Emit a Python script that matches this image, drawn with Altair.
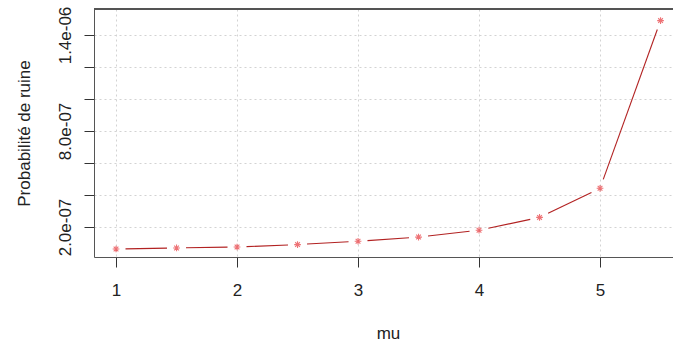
import math
import altair as alt
import pandas as pd

# ---- data ----
mu = [1.0, 1.5, 2.0, 2.5, 3.0, 3.5, 4.0, 4.5, 5.0, 5.5]
prob = [6.25e-08, 6.9e-08, 7.5e-08, 9.0e-08, 1.11e-07, 1.37e-07, 1.80e-07, 2.60e-07, 4.42e-07, 1.49e-06]

x_ticks = [1, 2, 3, 4, 5]
y_ticks = [2e-07, 4e-07, 6e-07, 8e-07, 1.0e-06, 1.2e-06, 1.4e-06]
y_labels = ["2.0e-07", "", "", "8.0e-07", "", "", "1.4e-06"]

x_title = "mu"
y_title = "Probabilité de ruine"

# ---- layout ----
W, H = 579, 248
x_dom = [0.818, 5.603]
y_dom = [1.25e-08, 1.5625e-06]
FONT = "Liberation Sans, Arial, Helvetica, sans-serif"
LINE_COL = "#B22222"
PT_COL = "#E8383D"

pts = pd.DataFrame({"mu": mu, "p": prob})

# segments of a type="b" plot: lines leave a gap around each point
gap = 9.5
sx = W / (x_dom[1] - x_dom[0])
sy = H / (y_dom[1] - y_dom[0])
rows = []
for i in range(len(mu) - 1):
    dmu = mu[i + 1] - mu[i]
    dp = prob[i + 1] - prob[i]
    L = math.hypot(dmu * sx, dp * sy)
    if L > 2 * gap:
        t = gap / L
        rows.append({"x1": mu[i] + t * dmu, "y1": prob[i] + t * dp,
                     "x2": mu[i + 1] - t * dmu, "y2": prob[i + 1] - t * dp})
segs = pd.DataFrame(rows)

expr = "''"
for v, l in reversed(list(zip(y_ticks, y_labels))):
    expr = f"abs(datum.value - {v}) < 1e-12 ? '{l}' : " + expr

xscale = alt.Scale(domain=x_dom, nice=False, zero=False)
yscale = alt.Scale(domain=y_dom, nice=False, zero=False)

xaxis = alt.Axis(values=x_ticks, format="d", title=x_title, grid=True, gridColor="#D3D3D3",
                 gridDash=[2, 3], gridWidth=1, domainColor="#555555", domainWidth=1,
                 tickColor="#333333", tickSize=10, labelFontSize=17, labelFont=FONT,
                 labelColor="#222222", labelPadding=15, labelFlush=False,
                 titleFont=FONT, titleFontSize=17, titleFontWeight="normal",
                 titleColor="#222222", titleBaseline="alphabetic", titleAlign="center",
                 titleX=294, titleY=81)
yaxis = alt.Axis(values=y_ticks, title=y_title, grid=True, gridColor="#D3D3D3",
                 gridDash=[2, 3], gridWidth=1, domainColor="#555555", domainWidth=1,
                 tickColor="#333333", tickSize=10, labelFontSize=17, labelFont=FONT,
                 labelColor="#222222", labelAngle=270, labelAlign="center",
                 labelBaseline="alphabetic", labelPadding=14, labelExpr=expr,
                 labelOverlap=False, labelFlush=False,
                 titleFont=FONT, titleFontSize=17, titleFontWeight="normal",
                 titleColor="#222222", titleAngle=270, titleAlign="center",
                 titleBaseline="alphabetic", titleX=-65, titleY=124)

lines = alt.Chart(segs).mark_rule(color=LINE_COL, strokeWidth=1.1).encode(
    x=alt.X("x1:Q", scale=xscale, axis=xaxis),
    y=alt.Y("y1:Q", scale=yscale, axis=yaxis),
    x2="x2:Q",
    y2="y2:Q",
)

star = "M-1,0L1,0M0,-1L0,1M-0.7,-0.7L0.7,0.7M-0.7,0.7L0.7,-0.7"
points = alt.Chart(pts).mark_point(shape=star, size=45, filled=False,
                                   color=PT_COL, strokeWidth=1.1).encode(
    x=alt.X("mu:Q", scale=xscale),
    y=alt.Y("p:Q", scale=yscale),
)

top = alt.Chart(pts).mark_rule(color="#555555", strokeWidth=1).encode(
    x=alt.value(0), x2=alt.value(W), y=alt.value(0)
)

chart = alt.layer(lines, points, top).properties(
    width=W, height=H,
    autosize=alt.AutoSizeParams(type="none"),
    padding={"left": 94, "top": 9, "right": 0, "bottom": 87},
    background="white",
).configure_view(stroke=None)

chart.save("out.html", embed_options={"renderer": "svg", "actions": False})
